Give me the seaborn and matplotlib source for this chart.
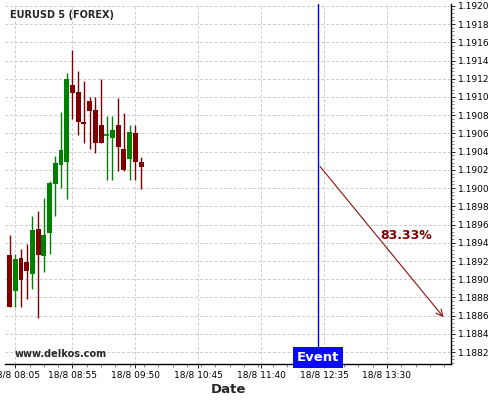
import matplotlib
matplotlib.use("Agg")
import matplotlib.pyplot as plt
import matplotlib.dates as mdates
from matplotlib.ticker import FuncFormatter, MultipleLocator, AutoMinorLocator, FixedLocator
from matplotlib.transforms import blended_transform_factory
import pandas as pd
import seaborn as sns

# Данные свечей (5-минутные, 18/8)
times = ["08:00", "08:05", "08:10", "08:15", "08:20", "08:25", "08:30", "08:35",
         "08:40", "08:45", "08:50", "08:55", "09:00", "09:05", "09:10", "09:15",
         "09:20", "09:25", "09:30", "09:35", "09:40", "09:45", "09:50", "09:55"]
opens = [1.18927, 1.18887, 1.18923, 1.18919, 1.18906, 1.18955, 1.18925, 1.18951,
         1.19005, 1.19025, 1.19029, 1.19113, 1.19105, 1.19073, 1.19096, 1.19086,
         1.19069, 1.19058, 1.19055, 1.19069, 1.19043, 1.19032, 1.19060, 1.19029]
highs = [1.18949, 1.18928, 1.18933, 1.18939, 1.18969, 1.18975, 1.18989, 1.19008,
         1.19035, 1.19084, 1.19126, 1.19151, 1.19128, 1.19118, 1.19100, 1.19100,
         1.19120, 1.19079, 1.19079, 1.19099, 1.19082, 1.19069, 1.19069, 1.19034]
lows = [1.18869, 1.18869, 1.18869, 1.18878, 1.18889, 1.18857, 1.18908, 1.18928,
        1.18969, 1.19000, 1.18988, 1.19076, 1.19058, 1.19049, 1.19043, 1.19039,
        1.19049, 1.19009, 1.19009, 1.19019, 1.19019, 1.19009, 1.19009, 1.18999]
closes = [1.18870, 1.18922, 1.18899, 1.18909, 1.18954, 1.18927, 1.18949, 1.19006,
          1.19028, 1.19042, 1.19120, 1.19104, 1.19072, 1.19070, 1.19085, 1.19049,
          1.19049, 1.19058, 1.19064, 1.19045, 1.19020, 1.19062, 1.19029, 1.19023]

tick_times = ["08:05", "08:55", "09:50", "10:45", "11:40", "12:35", "13:30"]
event_time = "12:30"
arrow_start = ("12:30", 1.19026)
arrow_end = ("14:21", 1.18856)
prob_label = "83.33%"
prob_pos = ("13:47", 1.18948)

day = "2020-08-18 "

def t(s):
    return mdates.date2num(pd.Timestamp(day + s))

df = pd.DataFrame({"time": [pd.Timestamp(day + s) for s in times],
                   "open": opens, "high": highs, "low": lows, "close": closes})
df["x"] = mdates.date2num(df["time"])
df["up"] = df["close"] >= df["open"]

sns.set_style("white")
plt.rcParams["font.family"] = ["DejaVu Sans"]

fig = plt.figure(figsize=(5, 4), dpi=100)
ax = fig.add_axes([0.01, 0.09, 0.892, 0.90])

green = "#008000"
red = "#800000"
colors = [green if u else red for u in df["up"]]

# Фитили
ax.vlines(df["x"], df["low"], df["high"], colors=colors, lw=1, zorder=3)
# Тела свечей
w = 4.3 / (24 * 60)
bottoms = df[["open", "close"]].min(axis=1)
heights = (df["close"] - df["open"]).abs()
for xi, b, h, c in zip(df["x"], bottoms, heights, colors):
    if h < 0.00001:
        ax.hlines(b, xi - w / 2, xi + w / 2, colors=c, lw=1.2, zorder=4)
    else:
        ax.bar(xi, h, bottom=b, width=w, color=c, linewidth=0, zorder=4)

# Линия события
ax.axvline(t(event_time), color="#0000ff", lw=1, zorder=5)
ax.text(t(event_time), 0.0, "Event", transform=blended_transform_factory(ax.transData, ax.transAxes),
        ha="center", va="bottom", color="white", fontsize=9.5, fontweight="bold", zorder=6,
        bbox=dict(boxstyle="square,pad=0.3", facecolor="#0a0aff", edgecolor="none"))

# Стрелка прогноза
ax.annotate("", xy=(t(arrow_end[0]), arrow_end[1]), xytext=(t(arrow_start[0]), arrow_start[1]),
            arrowprops=dict(arrowstyle="->", color="#8b1010", lw=0.8, mutation_scale=12), zorder=5)
ax.text(t(prob_pos[0]), prob_pos[1], prob_label, color="#800000", fontsize=9,
        fontweight="bold", ha="center", va="center")

ax.text(0.011, 0.969, "EURUSD 5 (FOREX)", transform=ax.transAxes, fontsize=7,
        fontweight="bold", ha="left", va="center")
ax.text(0.022, 0.028, "www.delkos.com", transform=ax.transAxes, fontsize=7,
        fontweight="bold", ha="left", va="center")

ax.set_xlim(t("07:56"), t("14:26"))
ax.set_ylim(1.18807, 1.19202)

ax.yaxis.tick_right()
ax.yaxis.set_major_locator(MultipleLocator(0.0002))
ax.yaxis.set_minor_locator(AutoMinorLocator(5))
ax.yaxis.set_major_formatter(FuncFormatter(lambda v, p: f"{v:.4f}"))
ax.xaxis.set_major_locator(FixedLocator([t(s) for s in tick_times]))
ax.xaxis.set_minor_locator(AutoMinorLocator(4))
ax.xaxis.set_major_formatter(FuncFormatter(
    lambda v, p: f"{mdates.num2date(v).day}/{mdates.num2date(v).month} {mdates.num2date(v):%H:%M}"))
ax.tick_params(axis="both", which="major", labelsize=6.5, length=3, width=0.6, colors="black",
               direction="out", pad=2)
ax.tick_params(axis="both", which="minor", length=2, width=0.5, colors="#555555")
ax.tick_params(axis="y", which="both", left=False, right=True)
ax.tick_params(axis="x", which="both", bottom=True)

ax.grid(True, which="major", color="#cccccc", linestyle="--", linewidth=0.7, dashes=(3, 2))
ax.set_axisbelow(True)
for side in ["left", "top"]:
    ax.spines[side].set_visible(False)
for side in ["right", "bottom"]:
    ax.spines[side].set_visible(True)
    ax.spines[side].set_color("black")
    ax.spines[side].set_linewidth(1)

ax.set_xlabel("Date", fontsize=9.5, fontweight="bold", labelpad=2)
ax.set_ylabel("")

fig.savefig("out.png", dpi=100)
